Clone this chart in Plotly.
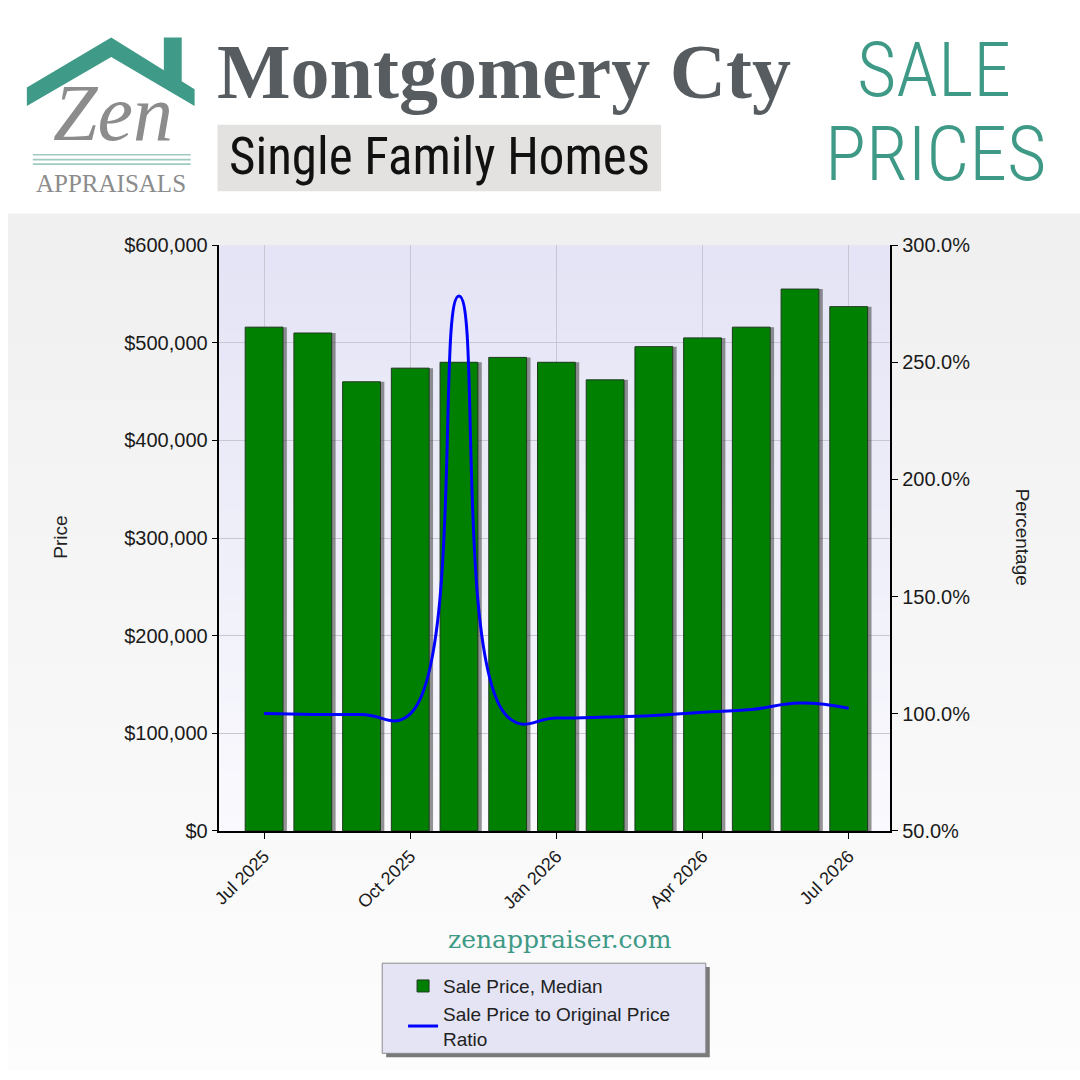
import plotly.graph_objects as go

# ---------------- data ----------------
months = ["Jul 2025", "Aug 2025", "Sep 2025", "Oct 2025", "Nov 2025", "Dec 2025",
          "Jan 2026", "Feb 2026", "Mar 2026", "Apr 2026", "May 2026", "Jun 2026", "Jul 2026"]
median_price = [516000, 510000, 460000, 474000, 480000, 485000,
                480000, 462000, 496000, 505000, 516000, 555000, 537000]
sp_op_ratio = [100.1, 99.7, 99.7, 100.0, 278.3, 98.7,
               98.2, 98.6, 99.3, 100.7, 101.8, 104.6, 102.4]
tick_months = ["Jul 2025", "Oct 2025", "Jan 2026", "Apr 2026", "Jul 2026"]

W = H = 1080


def px(x):
    return x / W


def py(y):
    return 1 - y / H


SANS = "Liberation Sans, Arial, sans-serif"
NARROW = "Roboto Condensed, Liberation Sans Narrow, DejaVu Sans Condensed, Arial Narrow, sans-serif"
TEAL = "#3e9a86"

fig = go.Figure()

BW = 0.776
fig.add_trace(go.Bar(
    x=months, y=median_price, width=BW, offset=-BW / 2 + 0.08,
    marker=dict(color="rgba(60,60,60,0.55)", line=dict(width=0)),
    showlegend=False, hoverinfo="skip", yaxis="y"))
fig.add_trace(go.Bar(
    x=months, y=median_price, width=BW, offset=-BW / 2,
    name="Sale Price, Median",
    marker=dict(color="#008000", line=dict(color="#1f3a1f", width=1)),
    yaxis="y"))
fig.add_trace(go.Scatter(
    x=months, y=sp_op_ratio, mode="lines",
    name="Sale Price to Original Price<br>Ratio",
    line=dict(color="#0000ff", width=3, shape="spline", smoothing=1.3),
    yaxis="y2"))

shapes = []


def rect(x0, y0, x1, y1, fill, line=None, lw=0):
    shapes.append(dict(type="rect", xref="paper", yref="paper",
                       x0=px(x0), x1=px(x1), y0=py(y1), y1=py(y0),
                       fillcolor=fill, line=dict(color=line or fill, width=lw),
                       layer="below"))


# header background
rect(0, 0, 1080, 207, "#ffffff")
# chart section gradient background
N = 40
top, bot = 207, 1080
for i in range(N):
    y0 = top + (bot - top) * i / N
    y1 = top + (bot - top) * (i + 1) / N + 1
    t = i / (N - 1)
    c = int(240 + (253 - 240) * t)
    rect(0, y0, 1080, y1, f"rgb({c},{c},{c})")
# plot area gradient background
ptop, pbot = 239, 837
for i in range(N):
    y0 = ptop + (pbot - ptop) * i / N
    y1 = ptop + (pbot - ptop) * (i + 1) / N + (1 if i < N - 1 else 0)
    t = i / (N - 1)
    r = int(228 + (250 - 228) * t)
    b = int(246 + (254 - 246) * t)
    rect(213, y0, 889, y1, f"rgb({r},{r},{b})")

# logo roof
roof = [(19, 78), (104, 27), (157, 60.4), (157, 27), (175, 27), (175, 71.8),
        (188, 80), (188, 97), (104, 47), (19, 97)]
path = "M " + " L ".join(f"{px(x):.5f},{py(y):.5f}" for x, y in roof) + " Z"
shapes.append(dict(type="path", xref="paper", yref="paper", path=path,
                   fillcolor="#3f9a88", line=dict(width=0), layer="above"))
for ly in (146.7, 151.7, 156.3):
    shapes.append(dict(type="line", xref="paper", yref="paper",
                       x0=px(25), x1=px(184), y0=py(ly), y1=py(ly),
                       line=dict(color="#9fcac1", width=1.6), layer="above"))
# subtitle box
shapes.append(dict(type="rect", xref="paper", yref="paper",
                   x0=px(211), x1=px(658), y0=py(184), y1=py(116),
                   fillcolor="#e3e2e0", line=dict(width=0), layer="above"))
# legend box + shadow
shapes.append(dict(type="rect", xref="paper", yref="paper",
                   x0=px(381), x1=px(707), y0=py(1068), y1=py(976),
                   fillcolor="#7a7a7a", line=dict(width=0), layer="above"))
shapes.append(dict(type="rect", xref="paper", yref="paper",
                   x0=px(377), x1=px(703), y0=py(1064), y1=py(972),
                   fillcolor="#e4e4f4", line=dict(color="#8c8c8c", width=1), layer="above"))

annotations = [
    dict(text="Zen", x=px(106), y=py(104), font=dict(family="Liberation Serif, serif",
         size=80, color="#8c8c8c", style="italic")),
    dict(text="APPRAISALS", x=px(104), y=py(176), font=dict(family="Liberation Serif, serif",
         size=25, color="#8c8c8c")),
    dict(text="<b>Montgomery Cty</b>", x=px(500), y=py(62), font=dict(family="Liberation Serif, serif",
         size=78, color="#565c60")),
    dict(text="Single Family Homes", x=px(435), y=py(149), font=dict(family=NARROW,
         size=51, color="#111111")),
    dict(text="SALE", x=px(933), y=py(60), font=dict(family=NARROW, size=76, color=TEAL, weight=300)),
    dict(text="PRICES", x=px(934), y=py(146), font=dict(family=NARROW, size=76, color=TEAL, weight=300)),
    dict(text="zenappraiser.com", x=px(556), y=py(948), font=dict(family="DejaVu Serif, serif",
         size=25, color=TEAL)),
    dict(text="Price", x=px(52), y=py(537), textangle=-90, font=dict(family=SANS, size=19, color="#222222")),
    dict(text="Percentage", x=px(1023), y=py(537), textangle=90, font=dict(family=SANS, size=19, color="#222222")),
]
for a in annotations:
    a.update(xref="paper", yref="paper", showarrow=False, xanchor="center", yanchor="middle")

fig.update_layout(
    width=W, height=H,
    margin=dict(l=0, r=0, t=0, b=0),
    paper_bgcolor="#ffffff",
    plot_bgcolor="rgba(0,0,0,0)",
    barmode="overlay",
    shapes=shapes,
    annotations=annotations,
    xaxis=dict(
        domain=[px(213), px(889)],
        type="category",
        categoryorder="array", categoryarray=months,
        range=[-0.917, 12.856],
        tickmode="array", tickvals=tick_months, ticktext=tick_months,
        tickangle=-45,
        ticks="outside", ticklen=6, tickcolor="#000000",
        showline=True, linecolor="#000000", linewidth=1.5,
        showgrid=True, gridcolor="#c8c8d4", gridwidth=1,
        tickfont=dict(family=SANS, size=18, color="#1a1a1a"),
        zeroline=False,
    ),
    yaxis=dict(
        domain=[243 / H, 841 / H],
        range=[0, 600000], dtick=100000, tickformat="$,.0f",
        ticks="outside", ticklen=6, tickcolor="#000000",
        showline=True, linecolor="#000000", linewidth=1.5,
        showgrid=True, gridcolor="#c8c8d4", gridwidth=1,
        tickfont=dict(family=SANS, size=20, color="#1a1a1a"),
        zeroline=False,
    ),
    yaxis2=dict(
        overlaying="y", side="right", anchor="x",
        range=[50, 300], dtick=50, tickformat=".1f", ticksuffix="%",
        ticks="outside", ticklen=6, tickcolor="#000000",
        showline=True, linecolor="#000000", linewidth=1.5,
        showgrid=False, zeroline=False,
        tickfont=dict(family=SANS, size=20, color="#1a1a1a"),
    ),
    legend=dict(
        x=px(398), y=py(976), xanchor="left", yanchor="top",
        bgcolor="rgba(0,0,0,0)", borderwidth=0,
        font=dict(family=SANS, size=19, color="#222222"),
        itemwidth=30, traceorder="normal", tracegroupgap=0,
    ),
    showlegend=True,
)

post = (
    "document.documentElement.style.margin='0';"
    "document.documentElement.style.padding='0';"
    "document.documentElement.style.overflow='hidden';"
    "document.body.style.margin='0';"
    "document.body.style.padding='0';"
    "document.body.style.overflow='hidden';"
    "var d=document.getElementById('{plot_id}');"
    "d.style.position='fixed';d.style.left='0px';d.style.top='0px';"
)

fig.write_html("out.html", config={"displayModeBar": False}, post_script=post)
